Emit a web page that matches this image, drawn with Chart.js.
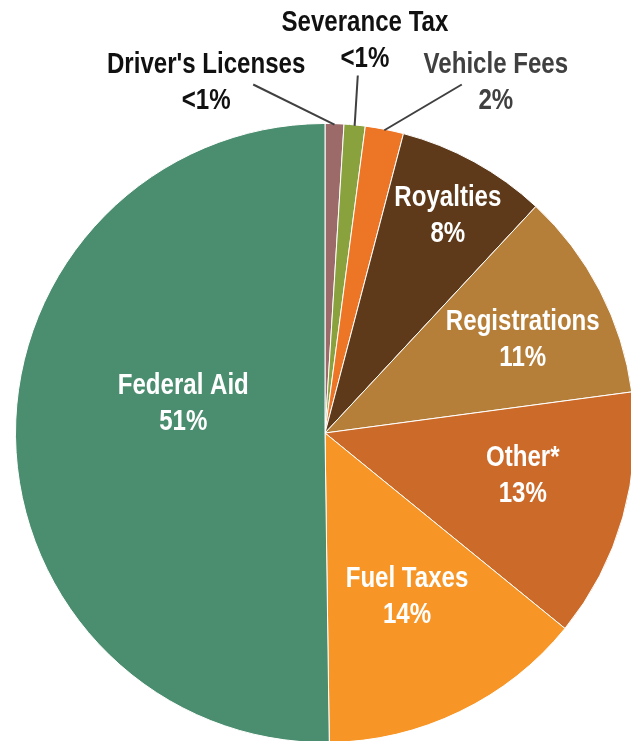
<!DOCTYPE html>
<html>
<head>
<meta charset="utf-8">
<script src="https://cdn.jsdelivr.net/npm/chart.js@4"></script>
<style>
  html,body{margin:0;padding:0;background:#fff;overflow:hidden;}
  #wrap{position:absolute;left:0;top:0;width:650px;height:750px;}
</style>
</head>
<body>
<div id="wrap"><canvas id="pie"></canvas></div>
<script>
// data (clockwise from 12 o'clock)
const categories = ["Driver's Licenses","Severance Tax","Vehicle Fees","Royalties","Registrations","Other*","Fuel Taxes","Federal Aid"];
const shares     = [0.98, 1.1, 2.0, 7.85, 10.95, 13.0, 13.9, 50.22];
const pctLabels  = ["<1%","<1%","2%","8%","11%","13%","14%","51%"];
const colors     = ["#9D6A6A","#8AA23E","#ED7626","#5E3A1A","#B57F3A","#CC6A2A","#F79626","#4B8D6F"];

// label placement, as fraction of radius from the pie centre
const labelPos = [[-0.384,-1.132],[0.129,-1.268],[0.552,-1.132],[0.397,-0.700],[0.639,-0.300],[0.639,0.140],[0.265,0.531],[-0.458,-0.095]];
const labelColor = ["#111","#111","#404040","#fff","#fff","#fff","#fff","#fff"];
// leader line start for the small outside slices
const leaderFrom = {0:[-0.232,-1.126], 1:[0.106,-1.155], 2:[0.442,-1.126]};

// no narrow font installed -> squeeze Liberation Sans bold horizontally
const FONT = "bold 29px 'Liberation Sans',Arial,sans-serif";
const SQUEEZE = 0.83;

function narrowText(ctx, txt, x, y){
  ctx.save();
  ctx.translate(x, y);
  ctx.scale(SQUEEZE, 1);
  ctx.fillText(txt, 0, 0);
  ctx.restore();
}

const pieLabels = {
  id:"pieLabels",
  afterDraw(chart){
    const ctx = chart.ctx;
    const arcs = chart.getDatasetMeta(0).data;
    const cx = arcs[0].x, cy = arcs[0].y, r = arcs[0].outerRadius;
    ctx.save();
    // leader lines
    ctx.strokeStyle = "#404040";
    ctx.lineWidth = 2;
    Object.keys(leaderFrom).forEach(k=>{
      const a = arcs[k];
      const mid = (a.startAngle + a.endAngle)/2;
      const [fx,fy] = leaderFrom[k];
      ctx.beginPath();
      ctx.moveTo(cx + fx*r, cy + fy*r);
      ctx.lineTo(cx + Math.cos(mid)*(r-1), cy + Math.sin(mid)*(r-1));
      ctx.stroke();
    });
    // texts
    ctx.font = FONT;
    ctx.textAlign = "center";
    ctx.textBaseline = "middle";
    categories.forEach((c,i)=>{
      const [fx,fy] = labelPos[i];
      const x = cx + fx*r, y = cy + fy*r;
      ctx.fillStyle = labelColor[i];
      narrowText(ctx, c, x, y-18);
      narrowText(ctx, pctLabels[i], x, y+18);
    });
    ctx.restore();
  }
};

new Chart(document.getElementById("pie"), {
  type:"pie",
  data:{
    labels: categories,
    datasets:[{ data: shares, backgroundColor: colors, borderColor:"#fff", borderWidth:1 }]
  },
  options:{
    responsive:true,
    maintainAspectRatio:false,
    animation:false,
    layout:{ padding:{ left:15, right:15, top:123, bottom:7 } },
    plugins:{ legend:{ display:false }, tooltip:{ enabled:false } }
  },
  plugins:[pieLabels]
});
</script>
</body>
</html>
